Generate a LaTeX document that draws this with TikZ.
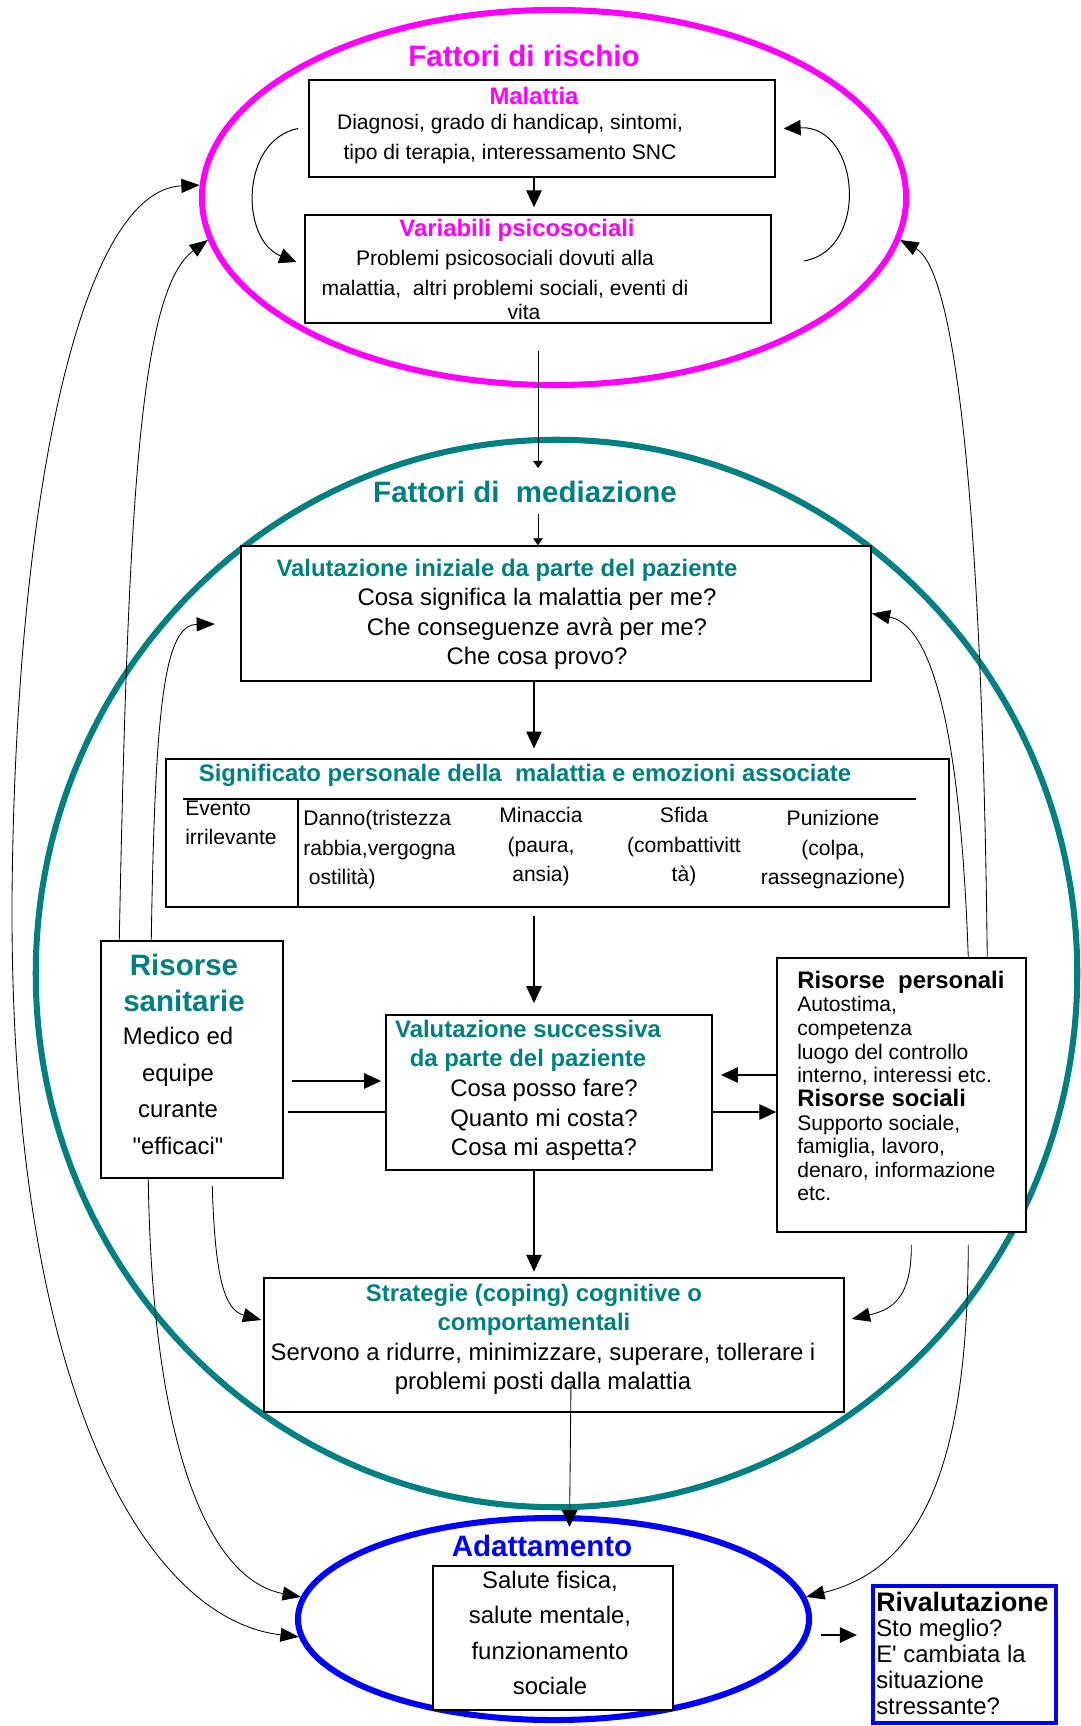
\documentclass[tikz,border=0pt]{standalone}
\usepackage{fontspec}
\setmainfont{Liberation Sans}[Ligatures=TeXOff]
\usetikzlibrary{arrows.meta,shapes,calc}

\definecolor{rosa}{RGB}{255,0,255}
\definecolor{verde}{RGB}{0,128,128}
\definecolor{blu}{RGB}{0,0,255}

\begin{document}
\begin{tikzpicture}[x=0.025cm, y=-0.025cm,
	box/.style={draw, fill=white, line width=1pt, inner sep=0pt},
	anello/.style={draw, ellipse, line width=4.3pt, inner sep=0pt},
	freccia/.style={line width=0.8pt, -{Triangle[length=12pt,width=11pt]}},
	sottile/.style={line width=0.6pt, -{Triangle[length=13pt,width=10pt]}},
	doppia/.style={line width=0.6pt, {Triangle[length=13pt,width=10pt]}-{Triangle[length=13pt,width=10pt]}},
	piccola/.style={line width=0.6pt, -{Triangle[length=5pt,width=7pt]}},
	titolo/.style={font=\bfseries\fontsize{21}{26}\selectfont, align=center},
	testa/.style={font=\bfseries\fontsize{17}{20.6}\selectfont, align=center},
	testo/.style={font=\fontsize{17}{21}\selectfont, align=center},
	tabella/.style={font=\fontsize{15}{21}\selectfont},
	sinistra/.style={align=left, anchor=west, inner sep=0pt}]
	
	\useasboundingbox (0,0) rectangle (1080,1726);
	
	\node[anello, draw=verde, minimum width=26.03cm, minimum height=26.68cm] (medi) at (556.5,973.5) {};
	\node[anello, draw=rosa, minimum width=17.6cm, minimum height=9.375cm] (rischio) at (554,197.5) {};
	\node[anello, draw=blu, minimum width=12.775cm, minimum height=5.05cm] (adatt) at (553.5,1619) {};
	
	\node[box, minimum width=11.65cm, minimum height=2.425cm] (mal) at (542,128.5) {};
	\node[box, minimum width=11.65cm, minimum height=2.7cm] (var) at (538,269) {};
	\node[box, minimum width=15.75cm, minimum height=3.375cm] (vi) at (556,613.5) {};
	\node[box, minimum width=19.575cm, minimum height=3.7cm] (sig) at (557.5,833) {};
	\node[box, minimum width=4.55cm, minimum height=5.925cm] (san) at (192,1059.5) {};
	\node[box, minimum width=8.15cm, minimum height=3.875cm] (suc) at (549,1092.5) {};
	\node[box, minimum width=6.225cm, minimum height=6.85cm] (per) at (901.5,1095) {};
	\node[box, minimum width=14.5cm, minimum height=3.35cm] (str) at (554,1345) {};
	\node[box, minimum width=6cm, minimum height=3.6cm] (sal) at (553,1638) {};
	\node[box, draw=blu, line width=3pt, minimum width=4.575cm, minimum height=3.425cm] (riv) at (964.5,1654.5) {};
	
	\draw[line width=0.8pt] (183,799) -- (916,799);
	\draw[line width=0.8pt] (298,799) -- (298,907);
	
	\node[titolo, text=rosa] (t1) at (524,56) {Fattori di rischio};
	\node[testa, text=rosa] (t2) at (534,96) {Malattia};
	\node[tabella, align=center] (t3) at (510,139) {Diagnosi, grado di handicap, sintomi,\\tipo di terapia, interessamento SNC};
	\node[testa, text=rosa] (t4) at (517,230) {Variabili psicosociali};
	\node[tabella, align=center] (t5) at (505,285) {Problemi psicosociali dovuti alla\\malattia,\ \ altri problemi sociali, eventi di\\[-3.6pt]\hspace*{27pt}vita};
	
	\node[titolo, text=verde] (t6) at (525,492) {Fattori di\ \ mediazione};
	\node[testa, text=verde] (t7) at (507,570) {Valutazione iniziale da parte del paziente};
	\node[testo] (t8) at (537,629) {Cosa significa la malattia per me?\\Che conseguenze avrà per me?\\Che cosa provo?};
	
	\node[testa, text=verde] (t9) at (525,775) {Significato personale della\ \ malattia e emozioni associate};
	\node[tabella, sinistra] (c1) at (185,823) {Evento\\irrilevante};
	\node[tabella, sinistra] (c2) at (303,850) {Danno(tristezza\\rabbia,vergogna\\\hspace*{4pt}ostilità)};
	\node[tabella, align=center] (c3) at (541,847) {Minaccia\\(paura,\\ansia)};
	\node[tabella, align=center] (c4) at (684,847) {Sfida\\(combattivitt\\tà)};
	\node[tabella, align=center] (c5) at (833,850) {Punizione\\(colpa,\\rassegnazione)};
	
	\node[titolo, text=verde] (t10) at (184,983) {Risorse\\sanitarie};
	\node[testo, font=\fontsize{17}{26}\selectfont] (t11) at (178,1091) {Medico ed\\equipe\\curante\\"efficaci"};
	\node[testa, text=verde] (t12) at (528,1046) {Valutazione successiva\\da parte del paziente};
	\node[testo] (t13) at (544,1120) {Cosa posso fare?\\Quanto mi costa?\\Cosa mi aspetta?};
	\node[sinistra, font=\fontsize{15}{16.8}\selectfont] (t14) at (797,1086) {\textbf{\fontsize{17}{17}\selectfont Risorse\ \ personali}\\Autostima,\\competenza\\luogo del controllo\\interno, interessi etc.\\\textbf{\fontsize{17}{17}\selectfont Risorse sociali}\\Supporto sociale,\\famiglia, lavoro,\\denaro, informazione\\etc.};
	
	\node[testa, text=verde] (t15) at (534,1310) {Strategie (coping) cognitive o\\comportamentali};
	\node[testo] (t16) at (543,1369) {Servono a ridurre, minimizzare, superare, tollerare i\\problemi posti dalla malattia};
	\node[titolo, text=blu] (t17) at (542,1546) {Adattamento};
	\node[testo, font=\fontsize{17}{25.3}\selectfont] (t18) at (550,1633) {Salute fisica,\\salute mentale,\\funzionamento\\sociale};
	\node[sinistra, font=\fontsize{17}{18.3}\selectfont] (t19) at (876,1653) {\textbf{\fontsize{19}{19}\selectfont Rivalutazione}\\Sto meglio?\\E' cambiata la\\situazione\\stressante?};
	
	\coordinate (asse) at (534,0);
	\coordinate (m1) at (538,468);
	\coordinate (m2) at (538,514);
	\coordinate (h1) at (292,1081);
	\coordinate (h2) at (288,1112);
	\coordinate (h3) at (721,1075);
	\coordinate (h4) at (821,1635);
	\coordinate (s1) at (571,1382);
	
	\draw[freccia, shorten >=5pt] (mal.south -| asse) -- (var.north -| asse);
	\draw[freccia, line width=0.7pt] ($(mal.west)+(-10,0)$) .. controls (240,140) and (240,240) .. ($(var.west)+(-8,-7)$);
	\draw[freccia, line width=0.7pt] ($(var.east)+(32,-8)$) .. controls (870,250) and (860,125) .. ($(mal.east)+(8,0)$);
	\draw[piccola] ($(var.south)+(0,27)$) -- (m1);
	\draw[piccola] (m2) -- (m2 |- vi.north);
	\draw[freccia, shorten >=7pt] (vi.south -| asse) -- (sig.north -| asse);
	\draw[freccia, shorten <=6pt, shorten >=8pt] (sig.south -| asse) -- (suc.north -| asse);
	\draw[freccia, shorten >=4pt] (suc.south -| asse) -- (str.north -| asse);
	\draw[freccia, line width=0.6pt] (s1) -- ($(adatt.north)+(16,12)$);
	
	\draw[freccia, shorten >=3pt] (h1) -- (h1 -| suc.west);
	\draw[line width=0.8pt] (h2) -- (h2 -| suc.west);
	\draw[freccia] (h2 -| suc.east) -- (h2 -| per.west);
	\draw[freccia] (h3 -| per.west) -- (h3);
	\draw[freccia, shorten >=10pt] (h4) -- (h4 -| riv.west);
	
	\draw[doppia] (rischio.178) .. controls (80,190) and (15,500) .. (12,900) .. controls (10,1400) and (150,1620) .. (adatt.184);
	\draw[sottile] ($(san.north west)+(19,0)$) .. controls (128,500) and (140,290) .. (rischio.187);
	\draw[sottile, shorten >=18pt] ($(san.north west)+(51,0)$) .. controls (155,700) and (165,625) .. ($(vi.west)+(0,10)$);
	\draw[sottile] ($(san.south west)+(48,0)$) .. controls (152,1450) and (210,1580) .. (adatt.175);
	\draw[sottile] ($(san.south west)+(112,7)$) .. controls (215,1280) and (225,1310) .. ($(str.west)+(-2,-25)$);
	\draw[sottile] ($(per.north west)+(211,0)$) .. controls (982,500) and (955,270) .. (rischio.353);
	\draw[sottile] ($(per.north west)+(192,0)$) .. controls (960,720) and (930,625) .. (vi.east);
	\draw[sottile] ($(per.south west)+(135,12)$) .. controls (912,1300) and (890,1310) .. ($(str.east)+(7,-26)$);
	\draw[sottile] ($(per.south west)+(192,12)$) .. controls (968,1480) and (915,1570) .. (adatt.5);
	
\end{tikzpicture}
\end{document}
